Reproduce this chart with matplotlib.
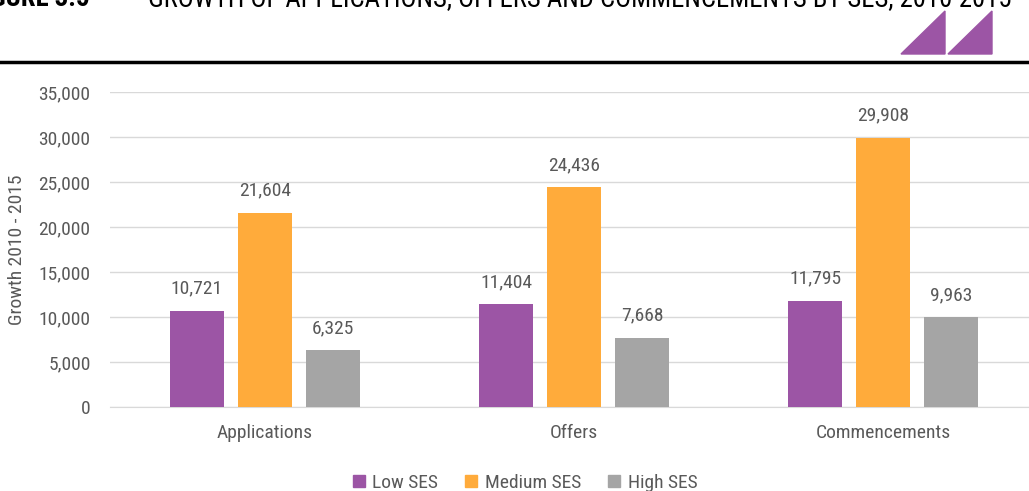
import matplotlib
matplotlib.use("Agg")
import matplotlib.pyplot as plt
from matplotlib.patches import Polygon
from matplotlib.lines import Line2D
import numpy as np
from matplotlib.ticker import FuncFormatter
from matplotlib import font_manager

categories = ["Applications", "Offers", "Commencements"]
series = ["Low SES", "Medium SES", "High SES"]
low_ses = [10721, 11404, 11795]
medium_ses = [21604, 24436, 29908]
high_ses = [6325, 7668, 9963]
yticks = [0, 5000, 10000, 15000, 20000, 25000, 30000, 35000]
title_num = "FIGURE 3.5"
title_text = "GROWTH OF APPLICATIONS, OFFERS AND COMMENCEMENTS BY SES, 2010-2015"

colors = ["#9C55A5", "#FFAB3B", "#A5A5A5"]
txt = "#595959"

names = {f.name for f in font_manager.fontManager.ttflist}
fam = "Liberation Sans"
for cand in ["Arial Narrow", "Liberation Sans Narrow", "Roboto Condensed", "Archivo Narrow", "Open Sans Condensed"]:
    if cand in names:
        fam = cand
        break
plt.rcParams['font.family'] = [fam, 'DejaVu Sans']

W, H = 1029, 491
fig = plt.figure(figsize=(W/100, H/100), dpi=100)

def fx(px): return px / W
def fy(py): return 1 - py / H

ax = fig.add_axes([fx(110), fy(407), fx(1038) - fx(110), fy(92) - fy(407)])
x = np.arange(len(categories))
bw = 0.175
off = 0.22
for i, (vals, c, name) in enumerate(zip([low_ses, medium_ses, high_ses], colors, series)):
    pos = x + (i - 1) * off
    ax.bar(pos, vals, width=bw, color=c, label=name, zorder=3)
    for p, v in zip(pos, vals):
        ax.annotate(f"{v:,}", (p, v), xytext=(0, 9.5), textcoords="offset points",
                    ha="center", va="bottom", fontsize=14, color=txt)

ax.set_xlim(-0.5, 2.5)
ax.set_ylim(0, 35000)
ax.set_yticks(yticks)
ax.yaxis.set_major_formatter(FuncFormatter(lambda v, p: f"{int(v):,}"))
ax.grid(axis="y", color="#D9D9D9", linewidth=1, zorder=0)
ax.set_xticks(x)
ax.set_xticklabels(categories)
for s in ["top", "right", "left"]:
    ax.spines[s].set_visible(False)
ax.spines["bottom"].set_color("#D9D9D9")
ax.tick_params(axis="both", length=0, labelsize=14, colors=txt)
ax.tick_params(axis="y", pad=14)
ax.tick_params(axis="x", pad=12.5)
ax.set_ylabel("Growth 2010 - 2015", fontsize=14, color=txt)
ax.yaxis.set_label_coords(fx(26), fy(250), transform=fig.transFigure)

handles = [Line2D([], [], marker="s", linestyle="none", markersize=8, color=c) for c in colors]
fig.legend(handles, series, loc="center", bbox_to_anchor=(fx(524), fy(483)), ncol=3,
           frameon=False, fontsize=14, labelcolor=txt, handlelength=0.8, handletextpad=0.3,
           columnspacing=1.3, borderpad=0)

# header (clipped at top as in the reference)
fig.canvas.draw()
r = fig.canvas.get_renderer()
t = fig.text(fx(148), fy(6), title_text, fontsize=20, color="black", va="baseline", ha="left")
wpx = t.get_window_extent(renderer=r).width
fs = 20 * 865 / wpx
t.set_fontsize(fs)
fig.text(fx(90), fy(6), title_num, fontsize=fs, fontweight="bold", color="black", va="baseline", ha="right")
fig.add_artist(Line2D([0, 1], [fy(61.5), fy(61.5)], color="black", linewidth=2.5, transform=fig.transFigure))
for xs in [(901, 945), (948, 992)]:
    tri = Polygon([(fx(xs[0]), fy(54)), (fx(xs[1]), fy(11)), (fx(xs[1]), fy(54))],
                  closed=True, color="#9C55A5", transform=fig.transFigure)
    fig.add_artist(tri)

fig.savefig("out.png", dpi=100)
